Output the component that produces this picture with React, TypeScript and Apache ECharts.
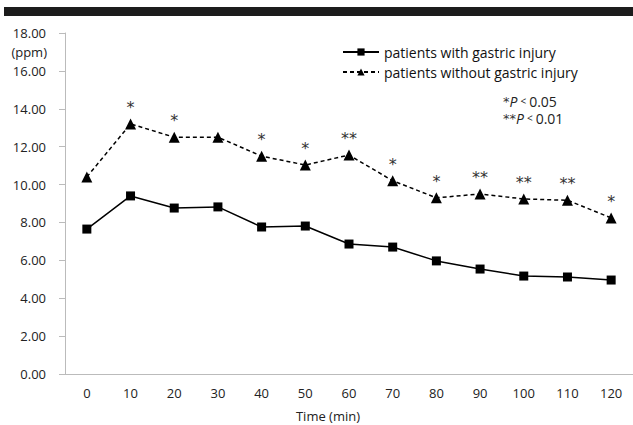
import React, { useEffect, useRef } from "react";
import * as echarts from "echarts";

const categories = ["0", "10", "20", "30", "40", "50", "60", "70", "80", "90", "100", "110", "120"];
const withInjury = [7.65, 9.4, 8.76, 8.82, 7.76, 7.81, 6.86, 6.7, 5.97, 5.54, 5.17, 5.12, 4.96];
const withoutInjury = [10.4, 13.2, 12.5, 12.5, 11.5, 11.03, 11.56, 10.2, 9.3, 9.5, 9.24, 9.17, 8.24];
const significance = ["", "*", "*", "", "*", "*", "**", "*", "*", "**", "**", "**", "*"];
const seriesNames = ["patients with gastric injury", "patients without gastric injury"];

const FONT = "'Open Sans', 'Noto Sans', sans-serif";
const STAR_FONT = "'DejaVu Sans', sans-serif";

export default function App() {
  const ref = useRef<HTMLDivElement>(null);
  useEffect(() => {
    if (!ref.current) return;
    const chart = echarts.init(ref.current, undefined, { renderer: "svg" });
    const pRich = {
      s: { fontSize: 13, fill: "#333", fontFamily: STAR_FONT, lineHeight: 14 },
      p: { fontStyle: "italic", fontSize: 14, fill: "#222", fontFamily: FONT, lineHeight: 14 },
      l: { fontSize: 10, fill: "#222", fontFamily: FONT, lineHeight: 14, padding: [0, 3, 0, 3] },
      n: { fontSize: 14, fill: "#222", fontFamily: FONT, lineHeight: 14 },
    };
    chart.setOption({
      animation: false,
      backgroundColor: "#fff",
      textStyle: { fontFamily: FONT },
      grid: { left: 65, top: 33, right: -4, bottom: 51, containLabel: false },
      legend: {
        orient: "vertical",
        left: 337,
        top: 40,
        itemWidth: 36,
        itemHeight: 9,
        itemGap: 6,
        data: seriesNames,
        textStyle: { fontSize: 14, color: "#111", fontFamily: FONT },
      },
      xAxis: {
        type: "category",
        data: categories,
        boundaryGap: true,
        axisLine: { lineStyle: { color: "#bbb", width: 1 } },
        axisTick: { alignWithLabel: true, length: 5, lineStyle: { color: "#bbb" } },
        axisLabel: { fontSize: 13, color: "#222", margin: 12, fontFamily: FONT },
        splitLine: { show: false },
      },
      yAxis: {
        type: "value",
        min: 0,
        max: 18,
        interval: 2,
        axisLine: { show: true, lineStyle: { color: "#bbb", width: 1 } },
        axisTick: { show: true, length: 6, lineStyle: { color: "#bbb" } },
        axisLabel: {
          fontSize: 13,
          color: "#222",
          margin: 19,
          fontFamily: FONT,
          formatter: (v: number) => v.toFixed(2),
        },
        splitLine: { show: false },
      },
      series: [
        {
          name: seriesNames[0],
          type: "line",
          data: withInjury,
          symbol: "rect",
          symbolSize: 9,
          itemStyle: { color: "#000" },
          lineStyle: { color: "#000", width: 1.5, type: "solid" },
        },
        {
          name: seriesNames[1],
          type: "line",
          data: withoutInjury,
          symbol: "triangle",
          symbolSize: 11,
          itemStyle: { color: "#000" },
          lineStyle: { color: "#000", width: 1.5, type: [4, 3] },
          label: {
            show: true,
            position: "top",
            distance: 3,
            fontSize: 16,
            color: "#333",
            textBorderWidth: 0,
            fontFamily: STAR_FONT,
            formatter: (p: any) => significance[p.dataIndex],
          },
        },
      ],
      graphic: [
        { type: "rect", left: 4, top: 7, shape: { width: 629, height: 9 }, style: { fill: "#1c1c1c" } },
        {
          type: "text",
          x: 47,
          y: 52,
          style: { text: "(ppm)", fontSize: 13, fill: "#222", fontFamily: FONT, align: "right", verticalAlign: "middle" },
        },
        {
          type: "text",
          x: 328,
          y: 416,
          style: { text: "Time (min)", fontSize: 13, fill: "#222", fontFamily: FONT, align: "center", verticalAlign: "middle" },
        },
        {
          type: "text",
          x: 503,
          y: 94,
          style: {
            text: "{s|*}{p|P}{l|<}{n|0.05}",
            fontFamily: FONT,
            rich: pRich,
          },
        },
        {
          type: "text",
          x: 503,
          y: 111,
          style: {
            text: "{s|**}{p|P}{l|<}{n|0.01}",
            fontFamily: FONT,
            rich: pRich,
          },
        },
      ],
    });
    return () => chart.dispose();
  }, []);
  return <div ref={ref} style={{ position: "fixed", left: 0, top: 0, width: 633, height: 425 }} />;
}
